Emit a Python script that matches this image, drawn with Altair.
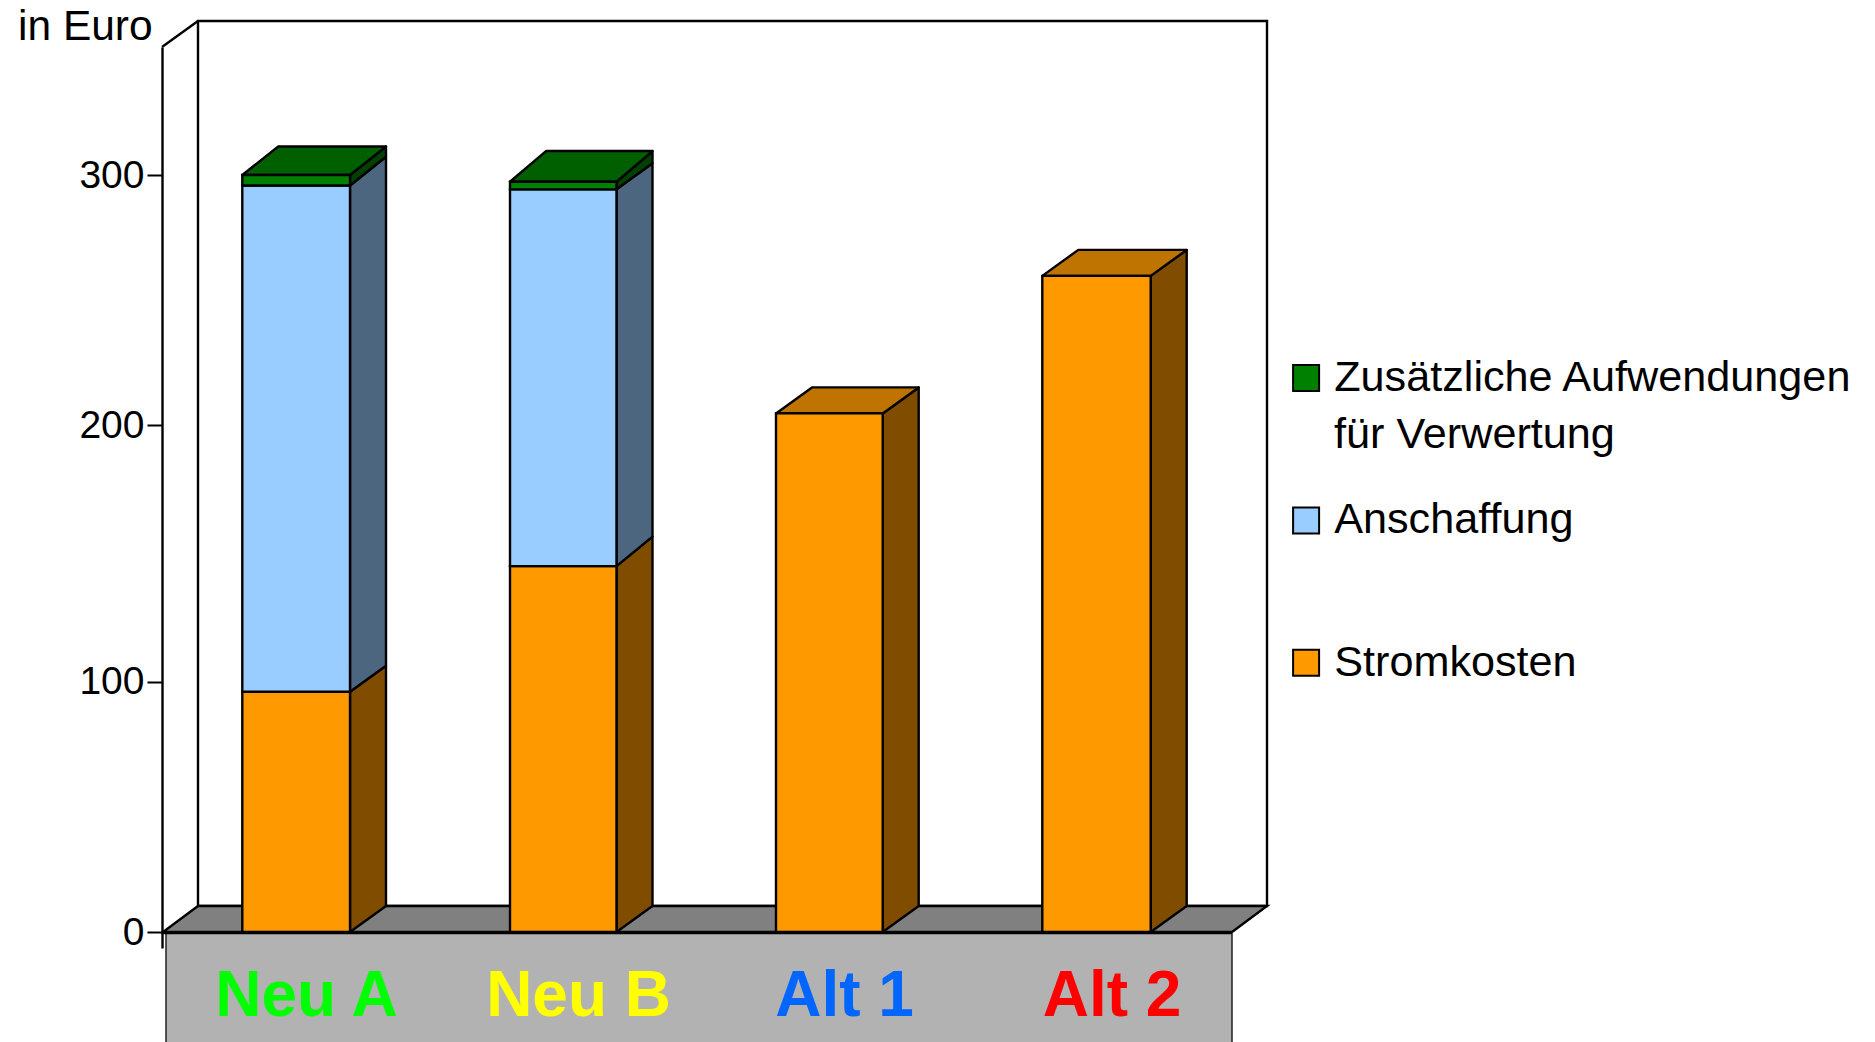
import altair as alt
import pandas as pd

# ---- values ----
categories = ["Neu A", "Neu B", "Alt 1", "Alt 2"]
series = ["Stromkosten", "Anschaffung", "Zusätzliche Aufwendungen"]
stromkosten = [95.2, 145.0, 205.5, 260.0]
anschaffung = [200.6, 149.3, 0.0, 0.0]
zusaetzlich = [4.2, 3.0, 0.0, 0.0]
tick_values = [0, 100, 200, 300]
legend_extra_line = "für Verwertung"

# ---- layout and style ----
K = 2.5233              # pixels per euro
DX = 36                 # depth of the 3D effect, x units
DV = 26 / K             # depth of the 3D effect, euro
bar_left = [80.3, 348, 614, 880.3]
bar_right = [188, 454.5, 720.7, 988.7]
label_x = [144.5, 416.6, 682.5, 950]
label_colors = ["#00FF00", "#FFFF00", "#0066FF", "#FF0000"]
# depth of each segment's upper edge, in pixels
edge_depth = [[26, 28.8, 28.5], [29.5, 26, 30.7], [26], [26]]
FONT = "Liberation Sans"
SW = 2.4
front = {"Stromkosten": "#FF9900", "Anschaffung": "#99CCFF", "Zusätzliche Aufwendungen": "#008000"}
side = {"Stromkosten": "#804D00", "Anschaffung": "#4D6680", "Zusätzliche Aufwendungen": "#004000"}
top = {"Stromkosten": "#BF7300", "Zusätzliche Aufwendungen": "#006000"}

x_scale = alt.Scale(domain=[0, 1700], nice=False, zero=False)
y_scale = alt.Scale(domain=[-6.34, 350.7], nice=False, zero=False)
# the reference's printed ticks are not quite evenly spaced
axis_scale = alt.Scale(domain=[-6.34, 0, 100, 200, 300, 350.7], range=[901, 885, 634.7, 378, 128, 0],
                       nice=False, zero=False)
X = lambda f="x": alt.X(f"{f}:Q", scale=x_scale, axis=None, title=None)
X2 = lambda f="x2": alt.X2(f"{f}:Q")
Y = lambda f="y": alt.Y(f"{f}:Q", scale=y_scale, axis=None, title=None)
Y2 = lambda f="y2": alt.Y2(f"{f}:Q")

front_rows, side_rows, top_rows = [], [], []
for i, c in enumerate(categories):
    base = 0.0
    d_low = DV
    segs = [("Stromkosten", stromkosten[i]), ("Anschaffung", anschaffung[i]),
            ("Zusätzliche Aufwendungen", zusaetzlich[i])]
    segs = [s for s in segs if s[1] > 0]
    for j, (name, v) in enumerate(segs):
        t = base + v
        is_top = j == len(segs) - 1
        d_up = edge_depth[i][j] / K
        front_rows.append(dict(series=name, x=bar_left[i], x2=bar_right[i], y=base, y2=t))
        key = f"{c}-{name}"
        side_rows.append(dict(face=key, fill=side[name], x=bar_right[i], y=base, y2=t))
        side_rows.append(dict(face=key, fill=side[name], x=bar_right[i] + DX, y=base + d_low, y2=t + d_up))
        if is_top:
            top_rows.append(dict(face=key, fill=top[name], y=t, x=bar_left[i], x2=bar_right[i]))
            top_rows.append(dict(face=key, fill=top[name], y=t + d_up, x=bar_left[i] + DX, x2=bar_right[i] + DX))
        base = t
        d_low = d_up

# back wall
wall = alt.Chart(pd.DataFrame([dict(x=DX, x2=1105, y=DV, y2=350.7 + DV)])).mark_rect(
    fill="white", stroke="black", strokeWidth=SW
).encode(x=X(), x2=X2(), y=Y(), y2=Y2())

# upper edge of the left wall
wall_edge = alt.Chart(pd.DataFrame(dict(x=[0, DX], y=[350.7, 350.7 + DV]))).mark_line(
    color="black", strokeWidth=SW
).encode(x=X(), y=Y())

# floor
floor = alt.Chart(pd.DataFrame(dict(y=[0, DV], x=[1, DX], x2=[1070, 1105]))).mark_area(
    orient="horizontal", fill="#808080", stroke="black", strokeWidth=SW
).encode(x=X(), x2=X2(), y=Y())

# category band
band = alt.Chart(pd.DataFrame([dict(x=4, x2=1070, y=-44, y2=0)])).mark_rect(
    fill="#B2B2B2", stroke="#222222", strokeWidth=1.5
).encode(x=X(), x2=X2(), y=Y(), y2=Y2())
band_top = alt.Chart(pd.DataFrame(dict(x=[1, 1070], y=[-0.3, -0.3]))).mark_line(
    color="black", strokeWidth=3
).encode(x=X(), y=Y())

sides = alt.Chart(pd.DataFrame(side_rows)).mark_area(stroke="black", strokeWidth=SW, strokeJoin="round").encode(
    x=X(), y=Y(), y2=Y2(), color=alt.Color("fill:N", scale=None), detail="face:N"
)
tops = alt.Chart(pd.DataFrame(top_rows)).mark_area(
    orient="horizontal", stroke="black", strokeWidth=SW, strokeJoin="round"
).encode(x=X(), x2=X2(), y=Y(), color=alt.Color("fill:N", scale=None), detail="face:N")

legend_order = ["Zusätzliche Aufwendungen", "Anschaffung", "Stromkosten"]
fronts = alt.Chart(pd.DataFrame(front_rows)).mark_rect(stroke="black", strokeWidth=SW).encode(
    x=X(), x2=X2(), y=Y(), y2=Y2(),
    color=alt.Color(
        "series:N",
        scale=alt.Scale(domain=legend_order, range=[front[s] for s in legend_order]),
        legend=alt.Legend(
            title=None, orient="none", legendX=1122.5, legendY=309.5, padding=0,
            symbolType="square", symbolSize=676, symbolStrokeColor="black", symbolStrokeWidth=2,
            labelFont=FONT, labelFontSize=43.2, labelColor="black", labelLimit=700, labelOffset=6.5,
            rowPadding=98.3,
        ),
    ),
)

extra = alt.Chart(pd.DataFrame(dict(t=[legend_extra_line]))).mark_text(
    font=FONT, fontSize=43.2, color="black", align="left", baseline="alphabetic"
).encode(x=alt.value(1172), y=alt.value(401), text="t:N")

cat_labels = alt.Chart(pd.DataFrame(dict(t=categories, x=label_x, c=label_colors))).mark_text(
    font=FONT, fontSize=64, fontWeight="bold", align="center", baseline="alphabetic"
).encode(x=X(), y=alt.value(969), text="t:N", color=alt.Color("c:N", scale=None))

# y axis carrier
axis_layer = alt.Chart(pd.DataFrame(dict(y=tick_values))).mark_point(opacity=0).encode(
    y=alt.Y(
        "y:Q", scale=axis_scale,
        axis=alt.Axis(
            values=tick_values, title="in Euro", titleFont=FONT, titleFontSize=42.5, titleFontWeight="normal",
            titleAngle=0, titleAlign="left", titleBaseline="alphabetic", titleX=-144.5, titleY=-8,
            titleColor="black", labelFont=FONT, labelFontSize=39, labelColor="black", labelPadding=3,
            tickColor="black", tickWidth=2, tickSize=15, domainColor="black", domainWidth=SW, grid=False,
        ),
    )
)

chart = alt.layer(
    wall, floor, wall_edge, band, band_top, sides, tops, fronts, extra, cat_labels, axis_layer
).resolve_scale(color="independent", y="independent").resolve_axis(y="independent").properties(
    width=1700, height=901,
    padding={"left": 154, "top": 39, "right": 5, "bottom": 94},
    autosize=alt.AutoSizeParams(type="none"),
).configure_view(stroke=None)

chart.save("out.html", embed_options={"renderer": "svg", "actions": False})
